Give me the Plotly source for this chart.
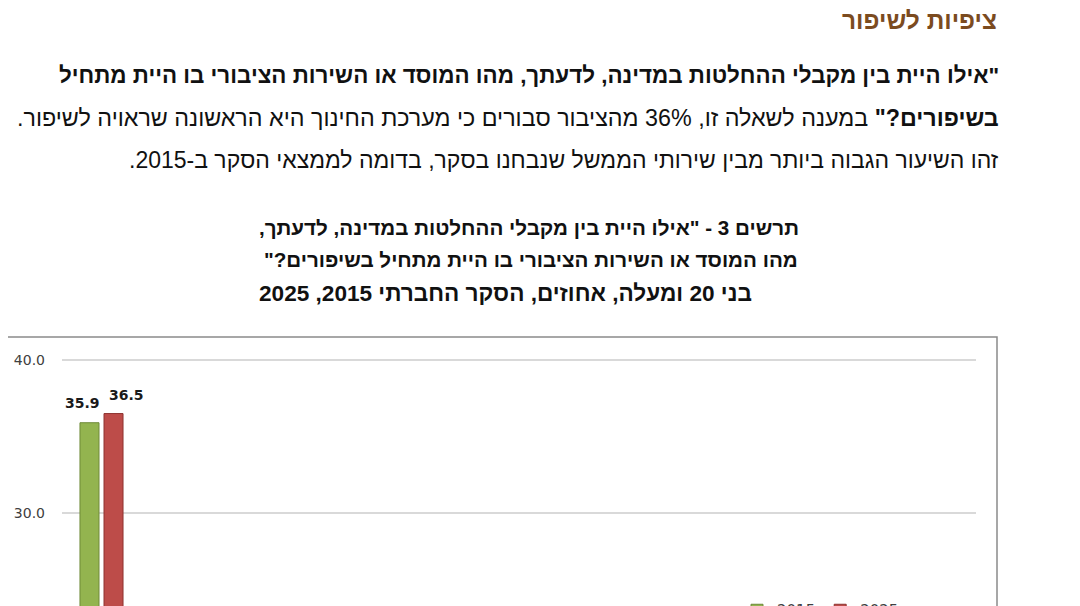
import plotly.graph_objects as go

# ---- data ----
categories = ["מערכת החינוך"]
years = ["2015", "2025"]
values_2015 = [35.9]
values_2025 = [36.5]
y_tickvals = [30.0, 40.0]

header_title = "ציפיות לשיפור"
para_line1 = '<b>"אילו היית בין מקבלי ההחלטות במדינה, לדעתך, מהו המוסד או השירות הציבורי בו היית מתחיל</b>'
para_line2 = '<b>בשיפורים?"</b> במענה לשאלה זו, 36% מהציבור סבורים כי מערכת החינוך היא הראשונה שראויה לשיפור.'
para_line3 = "זהו השיעור הגבוה ביותר מבין שירותי הממשל שנבחנו בסקר, בדומה לממצאי הסקר ב-2015."
chart_title_lines = [
    'תרשים 3 - "אילו היית בין מקבלי ההחלטות במדינה, לדעתך,',
    'מהו המוסד או השירות הציבורי בו היית מתחיל בשיפורים?"',
    "בני 20 ומעלה, אחוזים, הסקר החברתי 2015, 2025",
]

# ---- layout geometry ----
# the page body has an 8px margin, so the figure is drawn 8px right/down
OFF = 8
W, H = 1080 - OFF, 606 - OFF
L, R, T, B = 62 - OFF, 104, 355 - OFF, 0
PW, PH = W - L - R, H - T - B


def px_x(px):  # px in screen (reference) pixels
    return (px - OFF - L) / PW


def px_y(py):
    return (H - B - (py - OFF)) / PH


def rtl(s):
    return "\u202b" + s + "\u202c"


colors = {"2015": "#93b44f", "2025": "#bd4c49"}
edges = {"2015": "#6e8a38", "2025": "#8e3330"}

fig = go.Figure()
for yr, vals in zip(years, [values_2015, values_2025]):
    fig.add_trace(go.Bar(
        x=categories, y=vals, name=yr,
        marker=dict(color=colors[yr], line=dict(color=edges[yr], width=1)),
        hoverinfo="skip",
    ))

# data labels
label_font = dict(family="DejaVu Sans", size=14, color="#1a1a1a")
for vals, xs, ys in [(values_2015, -19.5, 20), (values_2025, 24.5, 19)]:
    for c, v in zip(categories, vals):
        fig.add_annotation(x=c, y=v, text=f"<b>{v:.1f}</b>", showarrow=False,
                           xshift=xs, yshift=ys, xanchor="center", yanchor="middle",
                           font=label_font)

text_font = "Arial, Liberation Sans, sans-serif"
annos = [
    dict(text=rtl(f"<b>{header_title}</b>"), x=px_x(999), y=px_y(21), xanchor="right",
         font=dict(family=text_font, size=24.5, color="#7b4b1f")),
    dict(text=rtl(para_line1), x=px_x(1001), y=px_y(75), xanchor="right",
         font=dict(family=text_font, size=22.4, color="#111111")),
    dict(text=rtl(para_line2), x=px_x(1001), y=px_y(118), xanchor="right",
         font=dict(family=text_font, size=23.3, color="#111111")),
    dict(text=rtl(para_line3), x=px_x(1001), y=px_y(160), xanchor="right",
         font=dict(family=text_font, size=23, color="#111111")),
]
for line, cx, cy, fs in zip(chart_title_lines, [529, 531, 505], [227, 260, 293],
                            [20.6, 20.6, 22.6]):
    annos.append(dict(text=rtl(f"<b>{line}</b>"), x=px_x(cx), y=px_y(cy), xanchor="center",
                      font=dict(family=text_font, size=fs, color="#111111")))
for a in annos:
    fig.add_annotation(xref="paper", yref="paper", yanchor="middle", showarrow=False, **a)

# chart frame
fig.add_shape(type="rect", xref="paper", yref="paper",
              x0=px_x(-3), x1=px_x(997), y0=px_y(640), y1=px_y(337),
              line=dict(color="#8a8a8a", width=1.5), fillcolor="rgba(0,0,0,0)", layer="below")

fig.update_layout(
    width=W, height=H,
    margin=dict(l=L, r=R, t=T, b=B, autoexpand=False),
    paper_bgcolor="white", plot_bgcolor="white",
    barmode="group", bargap=0.392, bargroupgap=0.208,
    showlegend=True,
    legend=dict(orientation="h", x=px_x(737), y=px_y(594), xanchor="left", yanchor="top",
                font=dict(family="DejaVu Sans", size=15, color="#404040"),
                bgcolor="rgba(0,0,0,0)"),
    xaxis=dict(type="category", range=[-0.5, 11.07], showticklabels=False, showgrid=False,
               zeroline=False, showline=False, automargin=False, fixedrange=True),
    yaxis=dict(range=[23.92, 40.327], tickvals=y_tickvals, tickformat=".1f",
               showgrid=True, gridcolor="#d9d9d9", gridwidth=1.5, zeroline=False,
               showline=False, ticks="", ticklabelstandoff=16, automargin=False,
               tickfont=dict(family="DejaVu Sans", size=14, color="#404040"), fixedrange=True),
)

fig.write_html("out.html")
